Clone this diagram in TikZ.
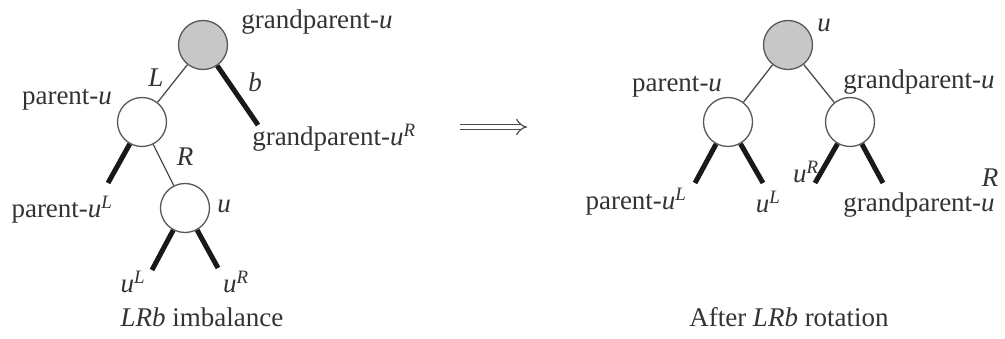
\documentclass[tikz,border=0pt]{standalone}
\usepackage{fontspec}
\setmainfont{Liberation Serif}
\usetikzlibrary{arrows.meta}
\newcommand\iv[1]{\textit{#1}}
\newcommand\sps[1]{\textsuperscript{\textit{#1}}}
\begin{document}
\begin{tikzpicture}[x=1pt,y=-1pt,
  every node/.style={text=black!80},
  lbl/.style={font=\fontsize{27}{32}\selectfont, inner sep=0pt},
  vtx/.style={circle, draw=black!65, line width=1.3pt, minimum size=49pt, inner sep=0pt, fill=white},
  rootvtx/.style={vtx, fill=black!22},
  thin/.style={draw=black!70, line width=1.3pt},
  heavy/.style={draw=black!90, line width=5pt}]
\useasboundingbox (0,0) rectangle (1005,339);
% ---------- left tree ----------
\node[rootvtx] (g) at (203,45) {};
\node[vtx] (p) at (142,122) {};
\node[vtx] (u) at (185,208) {};
\coordinate (gR) at (258,125);
\coordinate (pL) at (108,183);
\coordinate (uL) at (152,270);
\coordinate (uR) at (218,268);
\draw[thin] (g) -- (p);
\draw[thin] (p) -- (u);
\draw[heavy] (g) -- (gR);
\draw[heavy] (p) -- (pL);
\draw[heavy] (u) -- (uL);
\draw[heavy] (u) -- (uR);
\node[lbl] (t1) at (317,22) {grandparent-\iv{u}};
\node[lbl] (t2) at (156,78) {\iv{L}};
\node[lbl] (t3) at (255,82) {\iv{b}};
\node[lbl] (t4) at (67,100) {parent-\iv{u}};
\node[lbl] (t5) at (334,138) {grandparent-\iv{u}\sps{R}};
\node[lbl] (t6) at (185,157) {\iv{R}};
\node[lbl] (t7) at (62,210) {parent-\iv{u}\sps{L}};
\node[lbl] (t8) at (224,206) {\iv{u}};
\node[lbl] (t9) at (133,282) {\iv{u}\sps{L}};
\node[lbl] (t10) at (236,282) {\iv{u}\sps{R}};
\node[lbl] (t11) at (202,317) {\iv{LRb} imbalance};
% ---------- arrow ----------
\coordinate (a1) at (460,127);
\coordinate (a2) at (527,127);
\draw[draw=black!70, line width=1.2pt, double, double distance=4.5pt, -{Implies}] (a1) -- (a2);
% ---------- right tree ----------
\node[rootvtx] (r) at (788,45) {};
\node[vtx] (rp) at (728,122) {};
\node[vtx] (rg) at (850,122) {};
\coordinate (rpL) at (695,183);
\coordinate (rpR) at (763,183);
\coordinate (rgL) at (815,183);
\coordinate (rgR) at (883,183);
\draw[thin] (r) -- (rp);
\draw[thin] (r) -- (rg);
\draw[heavy] (rp) -- (rpL);
\draw[heavy] (rp) -- (rpR);
\draw[heavy] (rg) -- (rgL);
\draw[heavy] (rg) -- (rgR);
\node[lbl] (s1) at (824,25) {\iv{u}};
\node[lbl] (s2) at (677,87) {parent-\iv{u}};
\node[lbl] (s3) at (919,82) {grandparent-\iv{u}};
\node[lbl] (s4) at (636,202) {parent-\iv{u}\sps{L}};
\node[lbl] (s5) at (768,202) {\iv{u}\sps{L}};
\node[lbl] (s6) at (806,172) {\iv{u}\sps{R}};
\node[lbl] (s7) at (919,205) {grandparent-\iv{u}};
\node[lbl] (s8) at (990,178) {\iv{R}};
\node[lbl] (s9) at (789,317) {After \iv{LRb} rotation};
\end{tikzpicture}
\end{document}
